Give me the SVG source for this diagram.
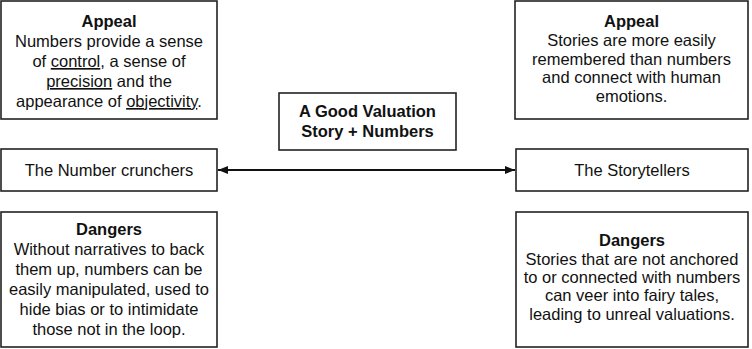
<svg xmlns="http://www.w3.org/2000/svg" width="752" height="349" viewBox="0 0 752 349">
<style>
.box{fill:#fff;stroke:#222;stroke-width:1.6}
text{font-family:"Liberation Sans",Arial,sans-serif;font-size:16.5px;fill:#111;text-anchor:middle}
.b{font-weight:bold}
.u{stroke:#555;stroke-width:1}
.conn{stroke:#111;stroke-width:2;fill:none}
</style>
<defs>
<marker id="ah" viewBox="0 0 10 8" refX="10" refY="4" markerWidth="10" markerHeight="8" markerUnits="userSpaceOnUse" orient="auto-start-reverse">
<path d="M0,0 L10,4 L0,8 Z" fill="#111"/>
</marker>
</defs>
<rect width="752" height="349" fill="#fff"/>
<g id="appeal-left">
<rect class="box" x="1" y="1" width="216" height="118"/>
<text x="109" y="27" class="b">Appeal</text>
<text x="109" y="47">Numbers provide a sense</text>
<text x="109" y="67">of <tspan text-decoration="underline">control</tspan>, a sense of</text>
<text x="109" y="87"><tspan text-decoration="underline">precision</tspan> and the</text>
<text x="109" y="107">appearance of <tspan text-decoration="underline">objectivity</tspan>.</text>
</g>
<g id="appeal-right">
<rect class="box" x="515" y="1" width="233" height="118"/>
<text x="631.5" y="27" class="b">Appeal</text>
<text x="631.5" y="46">Stories are more easily</text>
<text x="631.5" y="64.5">remembered than numbers</text>
<text x="631.5" y="83">and connect with human</text>
<text x="631.5" y="101.5">emotions.</text>
</g>
<g id="center">
<rect class="box" x="279" y="93" width="177" height="57"/>
<text x="367.5" y="117" class="b">A Good Valuation</text>
<text x="367.5" y="137" class="b">Story + Numbers</text>
</g>
<g id="number-crunchers">
<rect class="box" x="1" y="149" width="216" height="42"/>
<text x="109" y="176">The Number crunchers</text>
</g>
<g id="storytellers">
<rect class="box" x="516" y="149" width="232" height="42"/>
<text x="632" y="176">The Storytellers</text>
</g>
<g id="dangers-left">
<rect class="box" x="1" y="212" width="216" height="135"/>
<text x="109" y="235" class="b">Dangers</text>
<text x="109" y="254.5">Without narratives to back</text>
<text x="109" y="274.5">them up, numbers can be</text>
<text x="109" y="294.5">easily manipulated, used to</text>
<text x="109" y="314.5">hide bias or to intimidate</text>
<text x="109" y="335">those not in the loop.</text>
</g>
<g id="dangers-right">
<rect class="box" x="516" y="212" width="232" height="135"/>
<text x="632" y="246" class="b">Dangers</text>
<text x="632" y="264.5">Stories that are not anchored</text>
<text x="632" y="283">to or connected with numbers</text>
<text x="632" y="301">can veer into fairy tales,</text>
<text x="632" y="319.5">leading to unreal valuations.</text>
</g>
<g id="connectors">
<line class="conn" x1="218" y1="170" x2="515" y2="170" marker-start="url(#ah)" marker-end="url(#ah)"/>
</g>
</svg>
